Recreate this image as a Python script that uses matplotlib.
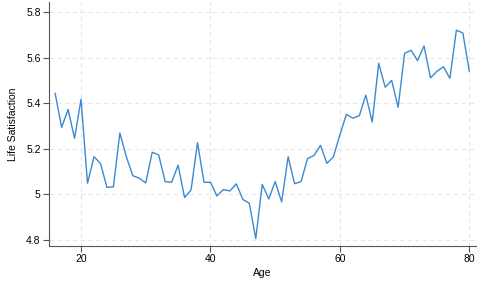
import numpy as np
import matplotlib
matplotlib.use('Agg')
import matplotlib.pyplot as plt

plt.rcParams['font.family'] = ['Liberation Sans', 'DejaVu Sans']

age = list(range(16, 81))
satisfaction = [5.443, 5.294, 5.373, 5.246, 5.417, 5.049, 5.165, 5.136, 5.031, 5.033,
                5.269, 5.165, 5.082, 5.071, 5.050, 5.185, 5.173, 5.056, 5.053, 5.128,
                4.986, 5.019, 5.227, 5.053, 5.053, 4.993, 5.021, 5.015, 5.046, 4.978,
                4.961, 4.806, 5.044, 4.980, 5.056, 4.967, 5.165, 5.047, 5.056, 5.157,
                5.171, 5.215, 5.136, 5.165, 5.261, 5.351, 5.334, 5.345, 5.435, 5.318,
                5.575, 5.470, 5.500, 5.382, 5.619, 5.632, 5.587, 5.651, 5.511, 5.540,
                5.560, 5.509, 5.720, 5.708, 5.541]
xticks = [20, 40, 60, 80]
yticks = [4.8, 5.0, 5.2, 5.4, 5.6, 5.8]
ytick_labels = ['4.8', '5', '5.2', '5.4', '5.6', '5.8']

fig = plt.figure(figsize=(4.9, 2.82), dpi=100)
ax = fig.add_axes([0.1, 0.128, 0.871, 0.865])
ax.plot(age, satisfaction, color='#3a8ad2', lw=1.0)

ax.set_xlim(15.05, 81.0)
ax.set_ylim(4.774, 5.844)
ax.set_xticks(xticks)
ax.set_yticks(yticks)
ax.set_yticklabels(ytick_labels)
ax.grid(True, color='#e6e6e6', linestyle=(0, (4, 3)), lw=0.8)
ax.set_axisbelow(True)
for s in ['top', 'right']:
    ax.spines[s].set_visible(False)
for s in ['left', 'bottom']:
    ax.spines[s].set_color('#555555')
    ax.spines[s].set_linewidth(0.8)
ax.tick_params(labelsize=7.5, color='#555555', length=4, width=0.8, pad=2)
ax.set_xlabel('Age', fontsize=7.5, labelpad=3)
ax.set_ylabel('Life Satisfaction', fontsize=7.5, labelpad=6)

fig.savefig('out.png', dpi=100)
